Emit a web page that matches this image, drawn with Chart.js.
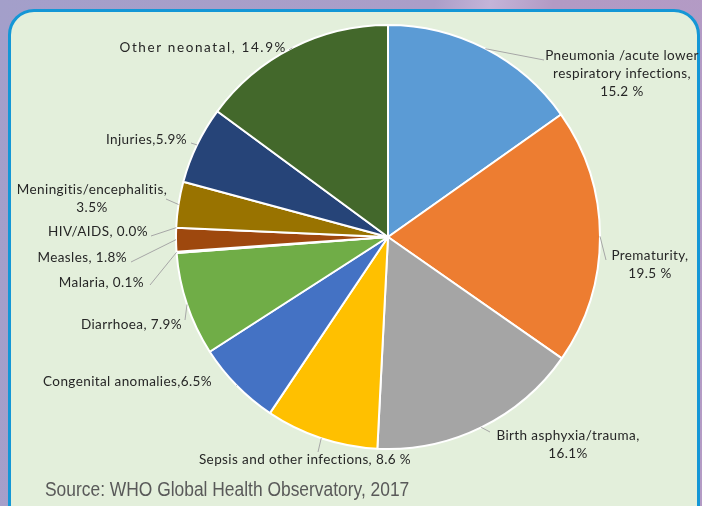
<!DOCTYPE html>
<html>
<head>
<meta charset="utf-8">
<script src="https://cdn.jsdelivr.net/npm/chart.js@4.4.1/dist/chart.umd.min.js"></script>
<style>
  html, body { margin: 0; padding: 0; }
  body {
    width: 702px; height: 506px; overflow: hidden; position: relative;
    background: linear-gradient(100deg, #a39fca 0%, #ab9ec8 55%, #c4b4d8 62%, #b29ac4 70%, #b49bc5 100%);
  }
  .panel {
    position: absolute; left: 8px; top: 9px; width: 686px; height: 520px;
    background: #e3efdb; border: 3px solid #1497d6; border-radius: 26px;
  }
  #chart { position: absolute; left: 0; top: 0; }
  .source {
    position: absolute; left: 45px; top: 478px; white-space: nowrap;
    font-family: "Liberation Sans", Arial, sans-serif;
    font-size: 20px; color: #595959;
    transform: scaleX(0.87); transform-origin: left top;
  }
</style>
</head>
<body>
<div class="panel"></div>
<canvas id="chart" width="702" height="506"></canvas>
<div class="source">Source: WHO Global Health Observatory, 2017</div>
<script>
// Daten: Todesursachen Kinder unter 5 (WHO 2017)
const causes = ['Pneumonia /acute lower respiratory infections', 'Prematurity', 'Birth asphyxia/trauma',
    'Sepsis and other infections', 'Congenital anomalies', 'Diarrhoea', 'Malaria', 'Measles',
    'HIV/AIDS', 'Meningitis/encephalitis', 'Injuries', 'Other neonatal'];
const shares = [15.2, 19.5, 16.1, 8.6, 6.5, 7.9, 0.1, 1.8, 0.0, 3.5, 5.9, 14.9];
const sliceColors = ['#5b9bd5', '#ed7d31', '#a5a5a5', '#ffc000', '#4472c4', '#70ad47',
    '#264478', '#9e480e', '#636363', '#997300', '#264478', '#43682b'];
// Beschriftungen (Zeilen) je Segment
const labelLines = [
    ['Pneumonia /acute lower', 'respiratory infections,', '15.2 %'],
    ['Prematurity,', '19.5 %'],
    ['Birth asphyxia/trauma,', '16.1%'],
    ['Sepsis and other infections, 8.6 %'],
    ['Congenital anomalies,6.5%'],
    ['Diarrhoea, 7.9%'],
    ['Malaria, 0.1%'],
    ['Measles, 1.8%'],
    ['HIV/AIDS, 0.0%'],
    ['Meningitis/encephalitis,', '3.5%'],
    ['Injuries,5.9%'],
    ['Other neonatal, 14.9%'],
];

// Position der Beschriftung: [x, y, align, leaderX, leaderY]
const labelPos = [
    [622, 56, 'center', 544, 60],
    [650, 256, 'center', 606, 260],
    [568, 436, 'center', 490, 432],
    [305, 460, 'center', 318, 452],
    [212, 382, 'right', 236, 386],
    [182, 325, 'right', 185, 320],
    [144, 283, 'right', 150, 285],
    [127, 258, 'right', 131, 262],
    [148, 232, 'right', 151, 236],
    [92, 190, 'center', 166, 199],
    [187, 140, 'right', 191, 143],
    [287, 48, 'right', 289, 50],
];

const labelPlugin = {
    id: 'sliceLabels',
    afterDraw(chart) {
        const ctx = chart.ctx;
        const meta = chart.getDatasetMeta(0);
        ctx.save();
        ctx.font = '13.5px Lato, "Open Sans", sans-serif';
        ctx.fillStyle = '#262626';
        ctx.textBaseline = 'middle';
        meta.data.forEach((arc, i) => {
            const mid = (arc.startAngle + arc.endAngle) / 2;
            const ax = arc.x + Math.cos(mid) * arc.outerRadius;
            const ay = arc.y + Math.sin(mid) * arc.outerRadius;
            const p = labelPos[i];
            ctx.strokeStyle = '#a6a6a6';
            ctx.lineWidth = 1;
            ctx.beginPath();
            ctx.moveTo(p[3], p[4]);
            ctx.lineTo(ax, ay);
            ctx.stroke();
            ctx.textAlign = p[2];
            // "Other neonatal" ist im Original weiter gesperrt
            ctx.letterSpacing = i === 11 ? '1.6px' : '0.4px';
            labelLines[i].forEach((line, j) => {
                ctx.fillText(line, p[0], p[1] + j * 18);
            });
        });
        ctx.restore();
    }
};

new Chart(document.getElementById('chart'), {
    type: 'pie',
    data: {
        labels: causes,
        datasets: [{
            data: shares,
            backgroundColor: sliceColors,
            borderColor: '#ffffff',
            borderWidth: 2,
        }],
    },
    options: {
        responsive: false,
        animation: false,
        layout: { padding: { left: 175, right: 101, top: 24, bottom: 56 } },
        plugins: {
            legend: { display: false },
            tooltip: { enabled: false },
        },
    },
    plugins: [labelPlugin],
});
</script>
</body>
</html>
